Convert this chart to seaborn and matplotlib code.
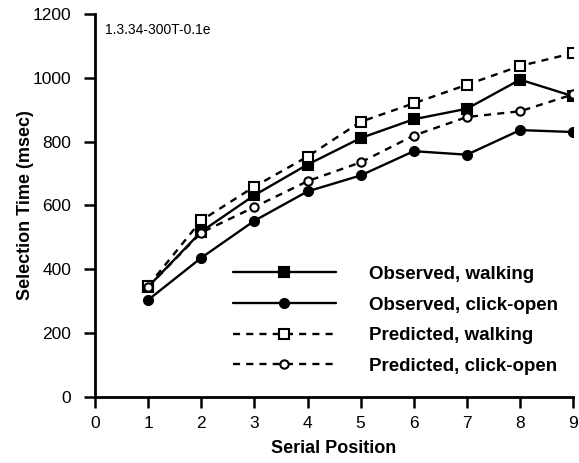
import pandas as pd
import seaborn as sns
import matplotlib.pyplot as plt
from matplotlib.lines import Line2D

# values
positions = [1, 2, 3, 4, 5, 6, 7, 8, 9]
obs_walking = [345, 518, 632, 728, 811, 870, 903, 994, 942]
obs_click = [304, 436, 552, 644, 694, 770, 759, 836, 830]
pred_walking = [348, 553, 659, 753, 862, 920, 978, 1037, 1077]
pred_click = [345, 515, 595, 676, 735, 819, 877, 895, 948]

series = {
    "Observed, walking": obs_walking,
    "Observed, click-open": obs_click,
    "Predicted, walking": pred_walking,
    "Predicted, click-open": pred_click,
}

styles = {
    "Observed, walking": dict(ls="-", marker="s", mfc="black", ms=7),
    "Observed, click-open": dict(ls="-", marker="o", mfc="black", ms=6.5),
    "Predicted, walking": dict(ls=(0, (3, 2.6)), marker="s", mfc="white", ms=6.5),
    "Predicted, click-open": dict(ls=(0, (3, 2.6)), marker="o", mfc="white", ms=6),
}

df = pd.DataFrame(
    [(name, p, v) for name, vals in series.items() for p, v in zip(positions, vals)],
    columns=["series", "position", "time"],
)

sns.set_theme(style="ticks")
plt.rcParams["font.family"] = ["Liberation Sans", "DejaVu Sans"]
plt.rcParams["text.color"] = "black"
plt.rcParams["axes.labelcolor"] = "black"

fig = plt.figure(figsize=(5.79, 4.63), dpi=100)
ax = fig.add_axes([0.164, 0.1425, 0.826, 0.8275])

handles = []
for name in series:
    st = styles[name]
    sns.lineplot(data=df[df["series"] == name], x="position", y="time", ax=ax,
                 color="black", linewidth=1.7, linestyle=st["ls"], marker=st["marker"],
                 markersize=st["ms"], markerfacecolor=st["mfc"], markeredgecolor="black",
                 markeredgewidth=1.5)
    handles.append(Line2D([], [], color="black", linewidth=1.7, linestyle=st["ls"],
                          marker=st["marker"], markersize=st["ms"],
                          markerfacecolor=st["mfc"], markeredgecolor="black",
                          markeredgewidth=1.5, label=name))

ax.set_xlim(0, 9)
ax.set_ylim(0, 1200)
ax.set_xticks(range(0, 10))
ax.set_yticks(range(0, 1201, 200))
ax.set_xlabel("Serial Position", fontsize=13, fontweight="bold", labelpad=6)
ax.set_ylabel("Selection Time (msec)", fontsize=13, fontweight="bold", labelpad=-1)
ax.tick_params(direction="out", length=8, width=1.8, labelsize=12.5, colors="black", pad=6)
ax.tick_params(axis="y", pad=9)
for side in ["left", "bottom"]:
    ax.spines[side].set_linewidth(2)
    ax.spines[side].set_color("black")
sns.despine(ax=ax)

ax.text(0.02, 0.975, "1.3.34-300T-0.1e", transform=ax.transAxes, fontsize=10, va="top")

leg = ax.legend(handles=handles, loc="lower left", bbox_to_anchor=(0.253, 0.014),
                frameon=False, handlelength=5.5, handletextpad=1.75, labelspacing=0.72,
                numpoints=1, prop={"weight": "bold", "size": 13.5})

plt.savefig("out.png", dpi=100)
